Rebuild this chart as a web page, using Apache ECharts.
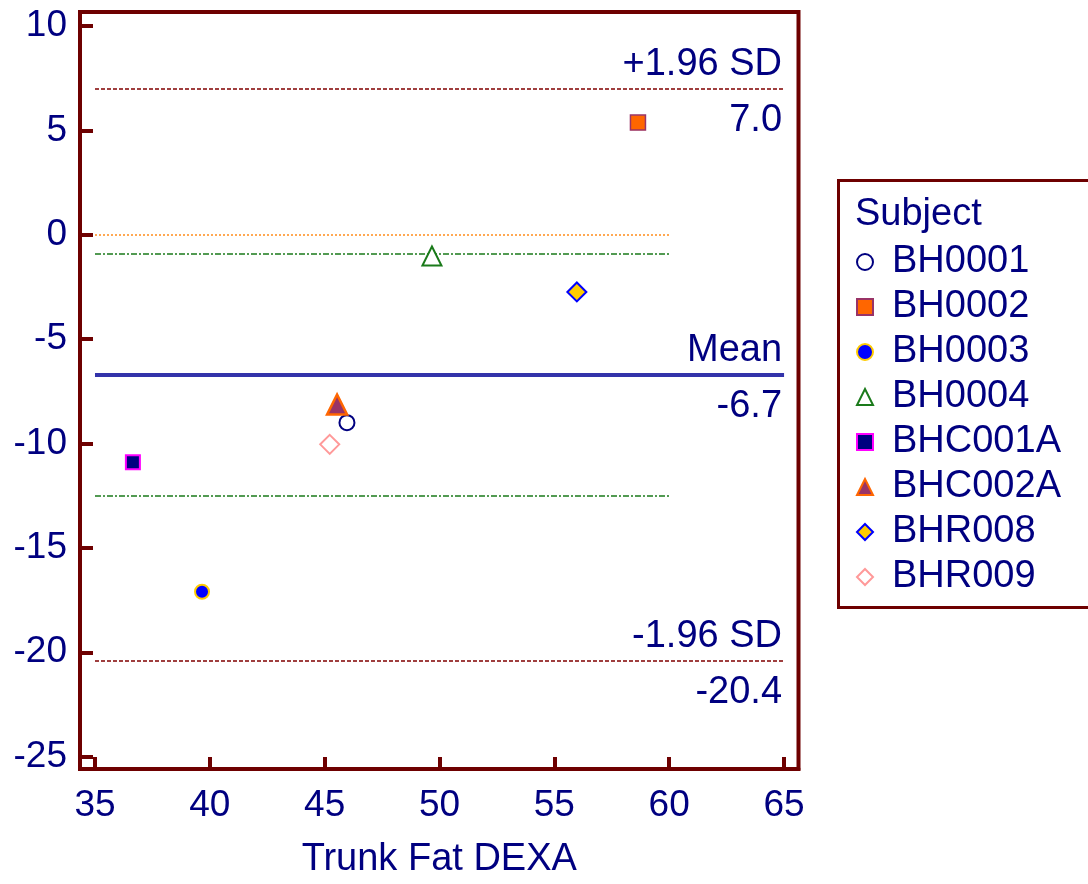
<!DOCTYPE html>
<html>
<head>
<meta charset="utf-8">
<script src="https://cdn.jsdelivr.net/npm/echarts@6/dist/echarts.min.js"></script>
<style>
html,body{margin:0;padding:0;background:#fff;}
#chart{width:1088px;height:884px;}
</style>
</head>
<body>
<div id="chart"></div>
<script>
// ---- data ----
const subjects = ['BH0001','BH0002','BH0003','BH0004','BHC001A','BHC002A','BHR008','BHR009'];
const trunkFat = [45.97, 58.64, 39.66, 49.67, 36.65, 45.54, 55.98, 45.22];
const difference = [-9.0, 5.37, -17.1, -1.02, -10.9, -8.13, -2.74, -10.04];
const xTicks = [35, 40, 45, 50, 55, 60, 65];
const yTicks = [-25, -20, -15, -10, -5, 0, 5, 10];
const meanDiff = -6.7;
const upperLoA = 7.0;
const lowerLoA = -20.4;
const meanCI = [-0.9, -12.5];
const lineXRange = [35, 65];
const shortLineXRange = [35, 60];

// ---- styles ----
const NAVY = '#000080';
const FRAME = '#6e0000';
const FONT = 'Liberation Sans, Arial, sans-serif';
const FS = 38;
const TFS = 37;
const markerStyles = [
  {symbol:'circle', size:15, color:'#ffffff', border:'#000080', bw:2},
  {symbol:'rect', size:15, color:'#ff6600', border:'#993366', bw:1.5},
  {symbol:'circle', size:14, color:'#0000ff', border:'#ffcc00', bw:2},
  {symbol:'triangle', size:19, color:'#ffffff', border:'#1a7a1a', bw:2},
  {symbol:'rect', size:14, color:'#000080', border:'#ff00ff', bw:2},
  {symbol:'triangle', size:20, color:'#993366', border:'#ff6600', bw:2.5},
  {symbol:'diamond', size:19, color:'#ffcc00', border:'#0000ff', bw:2},
  {symbol:'diamond', size:19, color:'#ffffff', border:'#ff9999', bw:2}
];

const scatterSeries = subjects.map((name, i) => ({
  name: name,
  type: 'scatter',
  symbol: markerStyles[i].symbol,
  symbolSize: markerStyles[i].size,
  itemStyle: {color: markerStyles[i].color, borderColor: markerStyles[i].border, borderWidth: markerStyles[i].bw, opacity: 1},
  emphasis: {disabled: true},
  data: [[trunkFat[i], difference[i]]],
  z: 5
}));

function hLine(y, range, style, labelTop, labelBottom) {
  const out = [];
  const base = [{coord:[range[0], y], lineStyle: style}, {coord:[range[1], y]}];
  if (labelTop !== undefined) {
    out.push([
      Object.assign({}, base[0], {label:{show:true, position:'insideEndTop', formatter: labelTop, distance:[2, 5]}}),
      base[1]
    ]);
    out.push([
      Object.assign({}, base[0], {label:{show:true, position:'insideEndBottom', formatter: labelBottom, distance:[2, 13]}}),
      base[1]
    ]);
  } else {
    out.push([Object.assign({}, base[0], {label:{show:false}}), base[1]]);
  }
  return out;
}

const lineData = [].concat(
  hLine(0, shortLineXRange, {color:'#ff8c1a', width:1.5, type:[2,2]}),
  hLine(meanCI[0], shortLineXRange, {color:'#1a7a1a', width:1.5, type:[6,2,2,2]}),
  hLine(meanCI[1], shortLineXRange, {color:'#1a7a1a', width:1.5, type:[6,2,2,2]}),
  hLine(upperLoA, lineXRange, {color:'#993333', width:1.5, type:[4,2]}, '+1.96 SD', upperLoA.toFixed(1)),
  hLine(meanDiff, lineXRange, {color:'#3333aa', width:4, type:'solid'}, 'Mean', meanDiff.toFixed(1)),
  hLine(lowerLoA, lineXRange, {color:'#993333', width:1.5, type:[4,2]}, '-1.96 SD', lowerLoA.toFixed(1))
);

const refSeries = {
  name: '__ref',
  type: 'line',
  data: [],
  silent: true,
  z: 2,
  markLine: {
    silent: true,
    symbol: ['none','none'],
    animation: false,
    label: {color: NAVY, fontSize: FS, fontFamily: FONT},
    emphasis: {disabled: true},
    data: lineData
  }
};

const chart = echarts.init(document.getElementById('chart'), null, {renderer:'canvas'});
chart.setOption({
  animation: false,
  backgroundColor: '#ffffff',
  grid: {left: 80, top: 12, right: 289.5, bottom: 112, show: true, borderColor: FRAME, borderWidth: 4, containLabel: false},
  xAxis: {
    type: 'value', min: 34.347, max: 65.63,
    name: 'Trunk Fat DEXA', nameLocation: 'middle', nameGap: 72,
    nameTextStyle: {color: NAVY, fontSize: FS, fontFamily: FONT},
    splitLine: {show: false},
    axisLine: {show: true, onZero: false, lineStyle: {color: FRAME, width: 4}},
    axisTick: {show: true, inside: true, length: 12, lineStyle: {color: FRAME, width: 4}, customValues: xTicks},
    axisLabel: {color: NAVY, fontSize: TFS, fontFamily: FONT, margin: 18, customValues: xTicks}
  },
  yAxis: {
    type: 'value', min: -25.59, max: 10.668,
    splitLine: {show: false},
    axisLine: {show: true, onZero: false, lineStyle: {color: FRAME, width: 4}},
    axisTick: {show: true, inside: true, length: 13, lineStyle: {color: FRAME, width: 4}, customValues: yTicks},
    axisLabel: {color: NAVY, fontSize: TFS, fontFamily: FONT, margin: 13, customValues: yTicks}
  },
  legend: {
    orient: 'vertical', left: 851, top: 238,
    data: subjects,
    itemWidth: 16, itemHeight: 16, itemGap: 7,
    selectedMode: false,
    textStyle: {color: NAVY, fontSize: FS, fontFamily: FONT, padding: [0, 0, 0, 14]}
  },
  graphic: [
    {type:'rect', left: 836, top: 178, shape:{width: 270, height: 427}, style:{fill:'none', stroke: FRAME, lineWidth: 3}, z: 0},
    {type:'text', left: 855, top: 196, style:{text:'Subject', fill: NAVY, font: FS + 'px ' + FONT}}
  ],
  series: scatterSeries.concat([refSeries])
});
</script>
</body>
</html>
